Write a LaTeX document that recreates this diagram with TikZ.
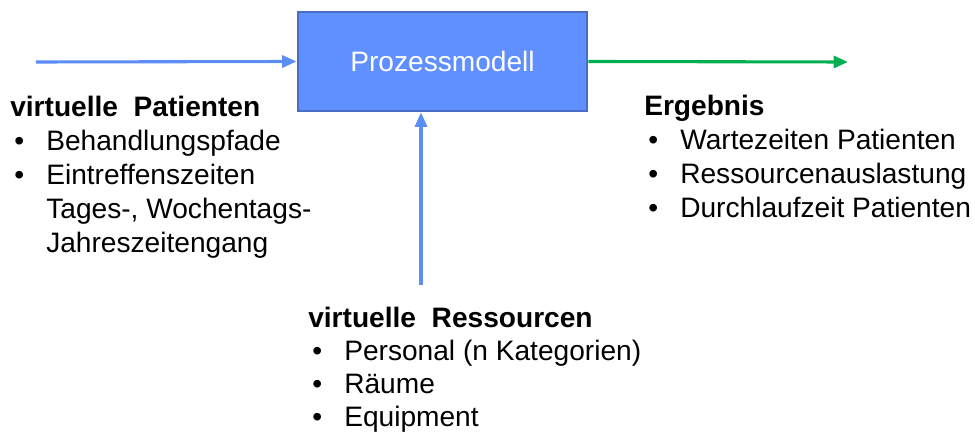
\documentclass[tikz,border=0pt]{standalone}
\usepackage{fontspec}
\setmainfont{Liberation Sans}
\usetikzlibrary{arrows.meta}
\definecolor{modelblue}{RGB}{96,143,255}
\definecolor{modeledge}{RGB}{74,110,196}
\definecolor{inblue}{RGB}{92,140,245}
\definecolor{outgreen}{RGB}{0,176,80}
% bullet and indent for the lists
\newcommand{\pkt}{\hspace*{0.1cm}\makebox[0.8cm][l]{\textbullet}}
\newcommand{\ein}{\hspace*{0.9cm}}
\tikzset{
  flow/.style={line width=2.2pt,-{Triangle[length=0.36cm,width=0.3cm]}},
  liste/.style={anchor=base west,align=left,inner sep=0pt,font=\fontsize{20}{24.2}\selectfont}
}
\begin{document}
\begin{tikzpicture}
%width=24.375cm
%height=10.8cm
\useasboundingbox (0,0) rectangle (24.375,10.8);
% coordinates
\coordinate (pin)  at ( 0.9,  9.25);
\coordinate (pout) at (21.2,  9.25);
\coordinate (rin)  at (10.525,3.675);
% model box
\node (model) [draw=modeledge,fill=modelblue,line width=2pt,minimum width=7.225cm,minimum height=2.475cm,text=white,font=\fontsize{20}{24}\selectfont] at (11.0625,9.2625) {Prozessmodell};
% arrows
\draw[flow,inblue]   (pin) -- (model.west);
\draw[flow,outgreen] (model.east) -- (pout);
\draw[flow,inblue]   (rin) -- (rin |- model.south);
% lists (anchored at the baseline of the last line)
\node (patienten) [liste] at (0.25,4.475) {\textbf{virtuelle\ \ Patienten}\\
  \pkt Behandlungspfade\\
  \pkt Eintreffenszeiten\\
  \ein Tages-, Wochentags-\\
  \ein Jahreszeitengang};
\node (ergebnis) [liste] at (16.1,5.35) {\textbf{Ergebnis}\\
  \pkt Wartezeiten Patienten\\
  \pkt Ressourcenauslastung\\
  \pkt Durchlaufzeit Patienten};
\node (ressourcen) [liste,font=\fontsize{20}{23.4}\selectfont] at (7.7,0.15) {\textbf{virtuelle\ \ Ressourcen}\\
  \pkt Personal (n Kategorien)\\
  \pkt Räume\\
  \pkt Equipment};
\end{tikzpicture}
\end{document}
